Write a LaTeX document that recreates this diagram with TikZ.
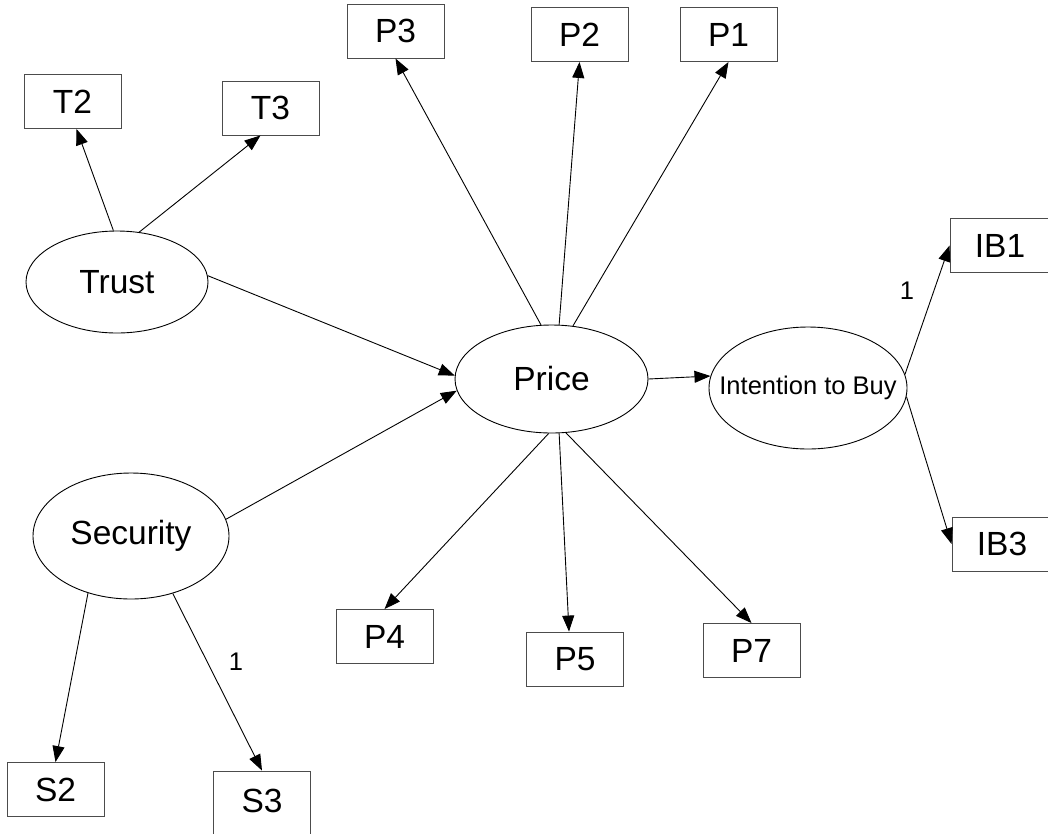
\documentclass[tikz,border=0pt]{standalone}
\usepackage{fontspec}
\setmainfont{Liberation Sans}
\usetikzlibrary{arrows.meta,shapes.geometric}
\begin{document}
\begin{tikzpicture}[x=1pt,y=-1pt,
  obs/.style={draw=black!70, line width=0.9pt, minimum width=97pt, minimum height=54pt, inner sep=0pt, font=\fontsize{33.5}{40}\selectfont},
  lat/.style={ellipse, draw=black, line width=0.9pt, inner sep=0pt, font=\fontsize{33.5}{40}\selectfont},
  conn/.style={draw=black, line width=0.9pt, -{Triangle[length=16pt,width=12pt]}},
  lab/.style={font=\fontsize{25.5}{30}\selectfont, inner sep=0pt}]
\useasboundingbox (0,0) rectangle (1048,833);
\fill[white] (0,0) rectangle (1048,833);

% latent variables
\node[lat, minimum width=182pt, minimum height=102pt] (trust) at (117,282) {\makebox[0pt]{Trust}};
\node[lat, minimum width=193pt, minimum height=108pt] (price) at (551.5,379) {\makebox[0pt]{Price}};
\node[lat, minimum width=198pt, minimum height=122pt, font=\fontsize{25.5}{30}\selectfont] (itb) at (808,388) {\makebox[0pt]{Intention to Buy}};
\node[lat, minimum width=196pt, minimum height=126pt] (security) at (131,536) {\makebox[0pt]{Security}};

% indicators
\node[obs] (P3) at (395.5,31) {P3};
\node[obs] (P2) at (579.5,34.5) {P2};
\node[obs] (P1) at (728.5,34.5) {P1};
\node[obs] (T2) at (72.5,101.5) {T2};
\node[obs] (T3) at (270.5,108) {T3};
\node[obs, minimum width=100pt] (IB1) at (1000,245.5) {IB1};
\node[obs, minimum width=100pt] (IB3) at (1002,544) {IB3};
\node[obs] (P4) at (384.5,636.5) {P4};
\node[obs] (P5) at (575,659) {P5};
\node[obs] (P7) at (751.5,650.5) {P7};
\node[obs] (S2) at (55.5,789.5) {S2};
\node[obs, minimum height=64pt] (S3) at (262,803) {\raisebox{5pt}{S3}};

% labels
\node[lab] (lab1) at (907,291) {1};
\node[lab] (lab2) at (236,662) {1};

% connectors
\draw[conn] (trust.94) -- ([xshift=4pt]T2.south);
\draw[conn] (trust.66) -- ([xshift=-10pt]T3.south);
\draw[conn] (trust.4) -- (price.178);
\draw[conn] (security.10.7) -- (price.187);
\draw[conn] (security.233) -- (S2.north);
\draw[conn] (security.-54) -- (S3.north);
\draw[conn] (price.101) -- (P3.south);
\draw[conn] (price.82) -- (P2.south);
\draw[conn] (price.68) -- (P1.south);
\draw[conn] (price.-93) -- (P4.north);
\draw[conn] (price.-82) -- ([xshift=-6pt]P5.north);
\draw[conn] (price.-75) -- (P7.north);
\draw[conn] (price.0) -- (itb.173);
\draw[conn] (itb.8.6) -- (IB1.west);
\draw[conn] (itb.-5.8) -- (IB3.west);
\end{tikzpicture}
\end{document}
